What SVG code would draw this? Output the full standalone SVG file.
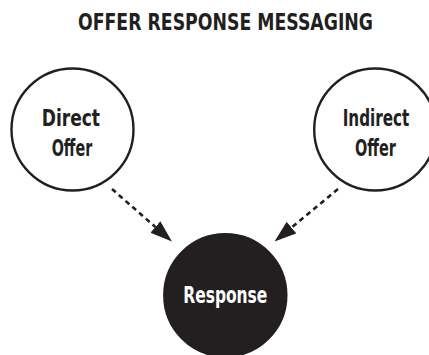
<svg xmlns="http://www.w3.org/2000/svg" width="429" height="355" viewBox="0 0 429 355">
<defs>
<style>
.t{font-family:"DejaVu Sans Condensed","DejaVu Sans","Liberation Sans",sans-serif;font-weight:bold;font-size:23.5px;fill:#231f20}
.w{fill:#ffffff}
.node{fill:#ffffff;stroke:#231f20;stroke-width:2.4}
.dark{fill:#231f20;stroke:#231f20;stroke-width:2.4}
.conn{fill:none;stroke:#231f20;stroke-width:2.6;stroke-dasharray:5 4}
</style>
<marker id="arr" markerUnits="userSpaceOnUse" markerWidth="24" markerHeight="16" refX="0" refY="7.5" orient="auto" viewBox="0 0 24 16">
<path d="M0,0 L22,7.5 L0,15 z" fill="#231f20"/>
</marker>
</defs>
<rect width="429" height="355" fill="#ffffff"/>
<text id="title" class="t" transform="translate(78,29.5) scale(0.82,1)" x="0" y="0" textLength="359.8" lengthAdjust="spacingAndGlyphs">OFFER RESPONSE MESSAGING</text>
<g id="connectors">
<path class="conn" d="M112,189 L155.4,227" marker-end="url(#arr)"/>
<path class="conn" d="M338,189 L291.5,227.5" marker-end="url(#arr)"/>
</g>
<g id="direct-offer">
<circle class="node" cx="72.5" cy="129.5" r="61"/>
<text class="t" transform="translate(41.7,126) scale(0.81,1)" x="0" y="0" textLength="72" lengthAdjust="spacingAndGlyphs">Direct</text>
<text class="t" transform="translate(51.7,156.3) scale(0.66,1)" x="0" y="0" textLength="61.4" lengthAdjust="spacingAndGlyphs">Offer</text>
</g>
<g id="indirect-offer">
<circle class="node" cx="375.2" cy="129.5" r="61"/>
<text class="t" transform="translate(342.7,126) scale(0.72,1)" x="0" y="0" textLength="92.5" lengthAdjust="spacingAndGlyphs">Indirect</text>
<text class="t" transform="translate(355,156.3) scale(0.66,1)" x="0" y="0" textLength="62.1" lengthAdjust="spacingAndGlyphs">Offer</text>
</g>
<g id="response">
<circle class="dark" cx="225.3" cy="295.3" r="61"/>
<text class="t w" transform="translate(183.3,303.3) scale(0.73,1)" x="0" y="0" textLength="115.1" lengthAdjust="spacingAndGlyphs">Response</text>
</g>
</svg>
